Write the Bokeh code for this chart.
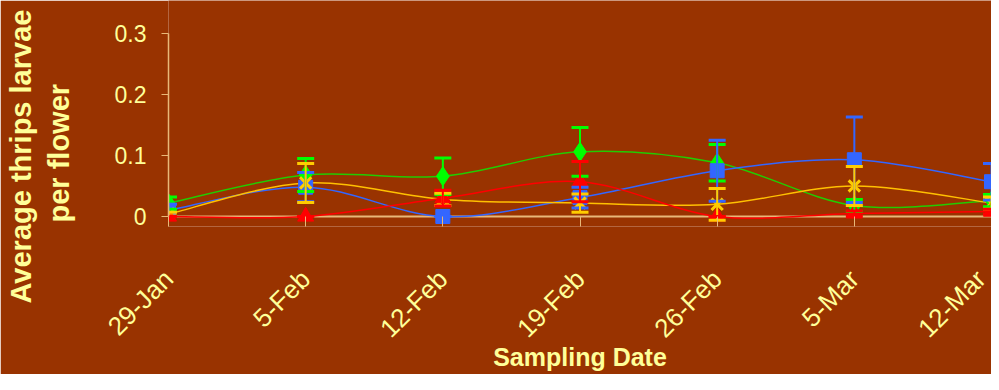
import math
from bokeh.plotting import figure
from bokeh.models import (ColumnDataSource, FixedTicker, Span, Title, Whisker, TeeHead)
from bokeh.embed import file_html
from bokeh.resources import INLINE

# ---------------- data ----------------
dates = ["29-Jan", "5-Feb", "12-Feb", "19-Feb", "26-Feb", "5-Mar", "12-Mar"]
xpos = [0, 1, 2, 3, 4, 5, 6]

green_vals = [0.022, 0.068, 0.066, 0.106, 0.088, 0.018, 0.026]
green_err = [0.010, 0.027, 0.030, 0.040, 0.030, 0.010, 0.010]

blue_vals = [0.010, 0.048, 0.000, 0.031, 0.075, 0.093, 0.057]
blue_err = [0.010, 0.024, 0.000, 0.017, 0.050, 0.070, 0.030]

yellow_vals = [0.004, 0.055, 0.028, 0.022, 0.020, 0.050, 0.022]
yellow_err = [0.003, 0.032, 0.010, 0.015, 0.026, 0.032, 0.010]

red_vals = [0.000, 0.000, 0.030, 0.057, 0.000, 0.005, 0.008]
red_err = [0.000, 0.000, 0.013, 0.033, 0.000, 0.004, 0.004]

y_ticks = [0, 0.1, 0.2, 0.3]
y_tick_labels = ["0", "0.1", "0.2", "0.3"]

BG = "#993300"
TXT = "#FFFF99"
AXC = "#E8B878"
FONT = "Liberation Sans"

p = figure(width=991, height=374, output_backend="svg", toolbar_location=None,
           x_range=(0, 6), y_range=(-0.0164, 0.354),
           min_border_left=168, min_border_right=0, min_border_top=0,
           min_border_bottom=148)
p.background_fill_color = BG
p.border_fill_color = BG
p.outline_line_color = None
p.grid.visible = False

# x axis
p.xaxis.ticker = FixedTicker(ticks=xpos)
p.xaxis.major_label_overrides = {x: d for x, d in zip(xpos, dates)}
p.xaxis.major_label_orientation = math.pi / 4
p.xaxis.axis_line_color = None
p.xaxis.major_tick_in = 10
p.xaxis.major_tick_out = 0
p.xaxis.major_tick_line_color = AXC
p.xaxis.minor_tick_line_color = None
p.xaxis.major_label_standoff = 48
p.xaxis.major_label_text_font = FONT
p.xaxis.major_label_text_font_size = "26px"
p.xaxis.major_label_text_color = TXT
p.xaxis.axis_label = "Sampling Date"
p.xaxis.axis_label_text_font = FONT
p.xaxis.axis_label_text_font_style = "bold"
p.xaxis.axis_label_text_font_size = "25px"
p.xaxis.axis_label_text_color = TXT
p.xaxis.axis_label_standoff = -14

# y axis
p.yaxis.ticker = FixedTicker(ticks=y_ticks)
p.yaxis.major_label_overrides = {t: l for t, l in zip(y_ticks, y_tick_labels)}
p.yaxis.bounds = (0, 0.3)
p.yaxis.axis_line_color = AXC
p.yaxis.axis_line_width = 1.5
p.yaxis.major_tick_line_color = AXC
p.yaxis.major_tick_in = 0
p.yaxis.major_tick_out = 7
p.yaxis.minor_tick_line_color = None
p.yaxis.major_label_standoff = 15
p.yaxis.major_label_text_font = FONT
p.yaxis.major_label_text_font_size = "23px"
p.yaxis.major_label_text_color = TXT

# baseline at zero
p.add_layout(Span(location=0, dimension="width", line_color=AXC, line_width=2,
                  level="underlay"))

# spacer between the axis and its two-line title
p.add_layout(Title(text=" ", text_font_size="1px", standoff=32,
                   text_color=BG), "left")
# y axis title, two lines
for txt, off in [("per flower", 4), ("Average thrips larvae", -77)]:
    p.add_layout(Title(text=txt, align="left", offset=off, text_font=FONT,
                       text_font_style="bold", text_font_size="29px",
                       text_color=TXT, standoff=4), "left")


def smooth(xs, ys):
    n = len(xs)
    x0, y0, x1, y1, cx0, cy0, cx1, cy1 = [], [], [], [], [], [], [], []
    for i in range(n - 1):
        pxm, pym = (xs[i - 1], ys[i - 1]) if i > 0 else (xs[i], ys[i])
        pxp, pyp = (xs[i + 2], ys[i + 2]) if i + 2 < n else (xs[i + 1], ys[i + 1])
        x0.append(xs[i]); y0.append(ys[i])
        x1.append(xs[i + 1]); y1.append(ys[i + 1])
        cx0.append(xs[i] + (xs[i + 1] - pxm) / 6)
        cy0.append(ys[i] + (ys[i + 1] - pym) / 6)
        cx1.append(xs[i + 1] - (pxp - xs[i]) / 6)
        cy1.append(ys[i + 1] - (pyp - ys[i]) / 6)
    return dict(x0=x0, y0=y0, x1=x1, y1=y1, cx0=cx0, cy0=cy0, cx1=cx1, cy1=cy1)


series = [
    (green_vals, green_err, "#00FF00", "#22CC00", "diamond", 19),
    (blue_vals, blue_err, "#3366FF", "#3366FF", "square", 14),
    (yellow_vals, yellow_err, "#FFCC00", "#FFC000", "x", 16),
    (red_vals, red_err, "#FF0000", "#FF0000", "triangle", 16),
]

for vals, errs, mcol, lcol, marker, size in series:
    p.bezier(source=ColumnDataSource(smooth(xpos, vals)), x0="x0", y0="y0", x1="x1",
             y1="y1", cx0="cx0", cy0="cy0", cx1="cx1", cy1="cy1",
             line_color=lcol, line_width=1.5)

for vals, errs, mcol, lcol, marker, size in series:
    src = ColumnDataSource(dict(x=xpos, y=vals,
                                lo=[v - e for v, e in zip(vals, errs)],
                                hi=[v + e for v, e in zip(vals, errs)]))
    w = Whisker(source=src, base="x", upper="hi", lower="lo", level="glyph",
                line_color=mcol, line_width=2,
                upper_head=TeeHead(size=17, line_color=mcol, line_width=3),
                lower_head=TeeHead(size=17, line_color=mcol, line_width=3))
    p.add_layout(w)
    if marker == "x":
        p.scatter("x", "y", source=src, marker=marker, size=size, line_color=mcol,
                  line_width=3)
    else:
        p.scatter("x", "y", source=src, marker=marker, size=size, fill_color=mcol,
                  line_color=mcol)

open("out.html", "w").write(file_html(p, INLINE))
